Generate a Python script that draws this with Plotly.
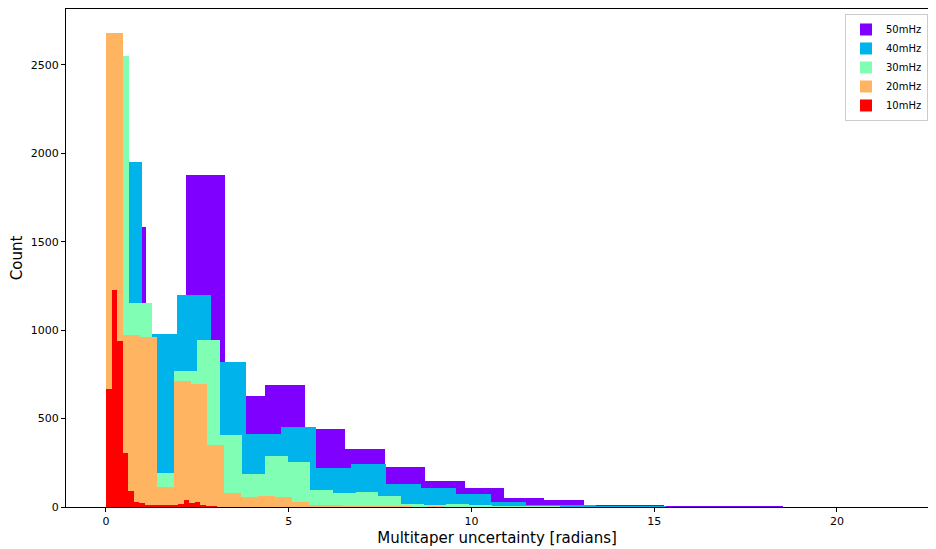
import plotly.graph_objects as go

# Series (legend order), histogram bin starts/widths and counts
series_names = ["50mHz", "40mHz", "30mHz", "20mHz", "10mHz"]
series_colors = ["#8000ff", "#00b4eb", "#80ffb4", "#ffb462", "#ff0000"]

bin_start = {"50mHz": 0.0, "40mHz": 0.018, "30mHz": 0.01, "20mHz": 0.0, "10mHz": 0.0}
bin_width = {"50mHz": 1.09, "40mHz": 0.956, "30mHz": 0.62, "20mHz": 0.463, "10mHz": 0.152}

counts_50 = [1582, 900, 1879, 626, 688, 440, 327, 226, 145, 106, 49, 41, 9, 9, 3, 1, 1, 0, 0, 0]
counts_40 = [1949, 980, 1196, 820, 410, 453, 218, 241, 132, 107, 73, 28, 13, 11, 2, 1, 0, 0, 0, 0]
counts_30 = [2551, 1153, 190, 769, 942, 406, 186, 288, 256, 96, 79, 83, 60, 17, 11, 15, 9, 3, 2, 1]
counts_20 = [2683, 971, 961, 115, 711, 697, 350, 82, 54, 62, 58, 30, 11, 11, 2, 5, 2, 1, 0, 1]
counts_10 = [666, 1228, 937, 306, 88, 30, 21, 8, 11, 8, 8, 8, 8, 17, 40, 24, 28, 8, 3, 2]

counts = {"50mHz": counts_50, "40mHz": counts_40, "30mHz": counts_30,
          "20mHz": counts_20, "10mHz": counts_10}

x_ticks = [0, 5, 10, 15, 20]
y_ticks = [0, 500, 1000, 1500, 2000, 2500]

fig = go.Figure()
for name, color in zip(series_names, series_colors):
    c = counts[name]
    w = bin_width[name]
    s = bin_start[name]
    centers = [s + (i + 0.5) * w for i in range(len(c))]
    fig.add_trace(go.Bar(
        x=centers, y=c, width=[w] * len(c), name=name,
        marker=dict(color=color, line=dict(width=0)),
    ))

font_family = "DejaVu Sans"
# page body has an 8px margin: figure sized/offset to compensate
fig.update_layout(
    width=920, height=539,
    barmode="overlay", bargap=0,
    paper_bgcolor="white", plot_bgcolor="white",
    margin=dict(l=58, r=0, t=1, b=40),
    font=dict(family=font_family, size=11, color="black"),
    showlegend=True,
    legend=dict(
        x=1.0, y=0.99, xanchor="right", yanchor="top",
        bgcolor="rgba(255,255,255,0.8)", bordercolor="#cccccc", borderwidth=1,
        font=dict(size=10), traceorder="normal", itemwidth=30,
        tracegroupgap=0,
    ),
)
fig.update_xaxes(
    range=[-1.093, 22.49], tickvals=x_ticks, ticktext=[str(v) for v in x_ticks],
    showgrid=False, zeroline=False,
    showline=True, linecolor="black", linewidth=1, mirror=True,
    ticks="outside", ticklen=4, tickcolor="black",
    title=dict(text="Multitaper uncertainty [radians]", font=dict(size=15), standoff=9),
)
fig.update_yaxes(
    range=[0, 2816], tickvals=y_ticks, ticktext=[str(v) for v in y_ticks],
    showgrid=False, zeroline=False,
    showline=True, linecolor="black", linewidth=1,
    ticks="outside", ticklen=4, tickcolor="black",
    title=dict(text="Count", font=dict(size=15), standoff=8),
)

fig.write_html("out.html")
